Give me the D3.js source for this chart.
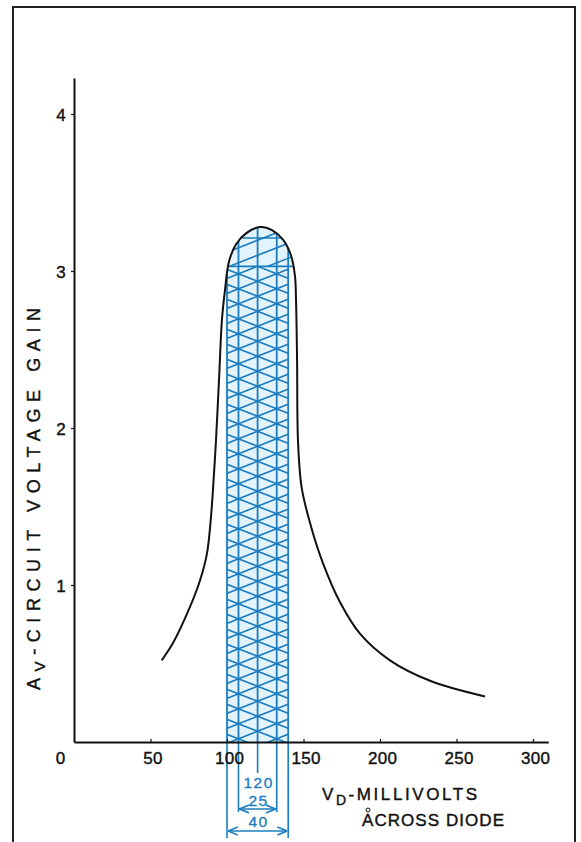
<!DOCTYPE html>
<html><head><meta charset="utf-8">
<script src="https://cdn.jsdelivr.net/npm/d3@7"></script>
<style>body{margin:0;background:#fff}svg{display:block}</style>
</head><body>
<script>
// ---- data ----
const xTicks = [0, 50, 100, 150, 200, 250, 300];
const yTicks = [1, 2, 3, 4];
const vdMillivolts = [57.3, 64.7, 75.8, 82.4, 86.9, 89.5, 91.5, 92.8, 94.8, 96.7, 98.7, 101.3, 105.9, 112.4, 121.6, 129.4, 136.6, 141.8, 144.4, 145.1, 145.8, 146.4, 148.8, 155.0, 162.7, 173.9, 186.9, 206.5, 232.7, 268.6];
const voltageGain  = [0.52, 0.63, 0.86, 1.03, 1.20, 1.43, 1.71, 1.92, 2.31, 2.69, 2.88, 3.06, 3.17, 3.24, 3.28, 3.26, 3.20, 3.10, 2.97, 2.82, 2.43, 1.92, 1.62, 1.37, 1.14, 0.89, 0.69, 0.52, 0.39, 0.29];
const bandOuter = [100, 140];     // 40 mV window
const bandInner = [107.5, 132.5]; // 25 mV window
const bandCenter = 120;
const domeLevels = [3.03, 3.21];
const annoLabels = ["120", "25", "40"];

// ---- setup ----
const W = 581, H = 842;
const blue = "#1b7cbf", fillBlue = "#e2f3fb";
const svg = d3.select("body").append("svg").attr("width", W).attr("height", H);
const x = d3.scaleLinear().domain([0, 310]).range([74, 74 + 310 * 1.53]);
const y = d3.scaleLinear().domain([0, 4.23]).range([742, 742 - 4.23 * 157]);
const pts = vdMillivolts.map((v, i) => [v, voltageGain[i]]);
const defs = svg.append("defs");
const crv = d3.curveCatmullRom.alpha(0.5);

// frame
svg.append("rect").attr("x", 13).attr("y", 7).attr("width", 562).attr("height", 850)
  .attr("fill", "none").attr("stroke", "#222").attr("stroke-width", 2);

// clip paths
const area = d3.area().x(d => x(d[0])).y0(y(0)).y1(d => y(d[1])).curve(crv);
defs.append("clipPath").attr("id", "cArea").append("path").attr("d", area(pts));
defs.append("clipPath").attr("id", "cBand").append("rect")
  .attr("x", x(bandOuter[0])).attr("width", x(bandOuter[1]) - x(bandOuter[0]))
  .attr("y", y(domeLevels[0])).attr("height", y(0) - y(domeLevels[0]));
defs.append("clipPath").attr("id", "cDome").append("rect")
  .attr("x", x(80)).attr("width", x(170) - x(80))
  .attr("y", y(4.2)).attr("height", y(domeLevels[0]) - y(4.2));

// arrow markers
defs.append("marker").attr("id", "arr").attr("viewBox", "0 0 10 10").attr("refX", 10).attr("refY", 5)
  .attr("markerWidth", 7).attr("markerHeight", 7).attr("orient", "auto-start-reverse")
  .append("path").attr("d", "M0,1 L10,5 L0,9").attr("fill", "none").attr("stroke", blue).attr("stroke-width", 1.6);

const gA = svg.append("g").attr("clip-path", "url(#cArea)");
const xc = x(bandCenter), y0 = y(domeLevels[0]);
const P = 15, s = P / (x(bandInner[1]) - x(bandInner[0]));
const xa = x(80), xb = x(170);

// band (below dome level)
const gB = gA.append("g").attr("clip-path", "url(#cBand)");
gB.append("rect").attr("x", x(bandOuter[0])).attr("width", x(bandOuter[1]) - x(bandOuter[0]))
  .attr("y", y(4)).attr("height", y(0) - y(4)).attr("fill", fillBlue);
for (let k = -10; k < 45; k++) {
  const yy = y0 + k * P;
  gB.append("line").attr("x1", xa).attr("y1", yy - s * (xa - xc)).attr("x2", xb).attr("y2", yy - s * (xb - xc))
    .attr("stroke", blue).attr("stroke-width", 1.6);
  gB.append("line").attr("x1", xa).attr("y1", yy + s * (xa - xc)).attr("x2", xb).attr("y2", yy + s * (xb - xc))
    .attr("stroke", blue).attr("stroke-width", 1.6);
}
// dome
const gD = gA.append("g").attr("clip-path", "url(#cDome)");
gD.append("rect").attr("x", xa).attr("width", xb - xa).attr("y", y(4.2)).attr("height", y0 - y(4.2)).attr("fill", fillBlue);
for (let k = -8; k < 8; k++) {
  const yy = y0 + 4 + k * P;
  gD.append("line").attr("x1", xa).attr("y1", yy - s * (xa - xc)).attr("x2", xb).attr("y2", yy - s * (xb - xc))
    .attr("stroke", blue).attr("stroke-width", 1.6);
}
gD.append("line").attr("x1", x(bandInner[0]) + 4).attr("x2", x(bandOuter[1]))
  .attr("y1", y(domeLevels[1])).attr("y2", y(domeLevels[1])).attr("stroke", blue).attr("stroke-width", 1.6);
gA.append("line").attr("x1", xa).attr("x2", xb).attr("y1", y0).attr("y2", y0).attr("stroke", blue).attr("stroke-width", 1.8);
// vertical lines through band
[bandOuter[0], bandInner[0], bandCenter, bandInner[1], bandOuter[1]].forEach(v => {
  gA.append("line").attr("x1", x(v)).attr("x2", x(v)).attr("y1", y(0)).attr("y2", y(4))
    .attr("stroke", blue).attr("stroke-width", 1.8);
});

// extension lines below the axis
const ext = [[bandOuter[0], 838], [bandOuter[1], 838], [bandInner[0], 812], [bandInner[1], 812], [bandCenter, 773]];
ext.forEach(([v, yb]) => svg.append("line").attr("x1", x(v)).attr("x2", x(v)).attr("y1", y(0)).attr("y2", yb)
  .attr("stroke", blue).attr("stroke-width", 1.6));
// dimension arrows
[[bandInner, 809], [bandOuter, 831]].forEach(([b, yy]) => {
  svg.append("line").attr("x1", x(b[0]) + 1).attr("x2", x(b[1]) - 1).attr("y1", yy).attr("y2", yy)
    .attr("stroke", blue).attr("stroke-width", 1.4)
    .attr("marker-start", "url(#arr)").attr("marker-end", "url(#arr)");
});
const font = "'Liberation Sans', Arial, sans-serif";
[[annoLabels[0], 788], [annoLabels[1], 806], [annoLabels[2], 827]].forEach(([t, yy]) => {
  svg.append("text").attr("x", xc + 1).attr("y", yy).attr("text-anchor", "middle")
    .attr("font-family", font).attr("font-size", 15.5).attr("letter-spacing", 1.5)
    .attr("fill", blue).attr("stroke", blue).attr("stroke-width", 0.3).text(t);
});

// curve
svg.append("path").datum(pts).attr("fill", "none").attr("stroke", "#111").attr("stroke-width", 2)
  .attr("d", d3.line().x(d => x(d[0])).y(d => y(d[1])).curve(crv));

// axes
const ink = sel => sel.attr("fill", "#111").attr("stroke", "#111").attr("stroke-width", 0.4);
const xAxis = svg.append("g").attr("transform", `translate(0,${y(0)})`)
  .call(d3.axisBottom(x).tickValues(xTicks).tickSize(-3).tickSizeOuter(0).tickFormat(d3.format("d")));
xAxis.select(".domain").attr("stroke", "#111").attr("stroke-width", 2);
xAxis.selectAll(".tick line").attr("stroke", "#111").attr("stroke-width", 1.2);
xAxis.selectAll(".tick text").attr("y", 22).attr("dy", 0).attr("dx", 2)
  .attr("font-family", font).attr("font-size", 17).attr("letter-spacing", 0.3).call(ink);
xAxis.selectAll(".tick").filter(d => d === 0).select("text").attr("dx", -14);
xAxis.selectAll(".tick").filter(d => d === 0).select("line").remove();

const yAxis = svg.append("g").attr("transform", `translate(${x(0)},0)`)
  .call(d3.axisLeft(y).tickValues(yTicks).tickSize(3).tickSizeOuter(0).tickFormat(d3.format("d")));
yAxis.select(".domain").attr("stroke", "#111").attr("stroke-width", 2);
yAxis.selectAll(".tick line").attr("stroke", "#111").attr("stroke-width", 1.2);
yAxis.selectAll(".tick text").attr("x", -13).attr("text-anchor", "middle").attr("dy", "0.36em")
  .attr("font-family", font).attr("font-size", 17).call(ink);

// y label
const yl = svg.append("text").attr("transform", "translate(40,690) rotate(-90)")
  .attr("font-family", font).attr("font-size", 18).call(ink)
  .attr("textLength", 382).attr("lengthAdjust", "spacing");
yl.append("tspan").text("A");
yl.append("tspan").attr("dy", 5).attr("font-size", 15).text("V");
yl.append("tspan").attr("dy", -5).text("-CIRCUIT  VOLTAGE  GAIN");

// x label
const xl = svg.append("text").attr("x", 322).attr("y", 800)
  .attr("font-family", font).attr("font-size", 17).call(ink)
  .attr("textLength", 155).attr("lengthAdjust", "spacing");
xl.append("tspan").text("V");
xl.append("tspan").attr("dy", 5).attr("font-size", 14).text("D");
xl.append("tspan").attr("dy", -5).text("-MILLIVOLTS");
svg.append("text").attr("x", 362).attr("y", 826)
  .attr("font-family", font).attr("font-size", 17).call(ink)
  .attr("textLength", 142).attr("lengthAdjust", "spacing").text("ACROSS  DIODE");
svg.append("circle").attr("cx", 368).attr("cy", 810).attr("r", 2).attr("fill", "none").attr("stroke", "#111").attr("stroke-width", 1);
</script>
</body></html>
